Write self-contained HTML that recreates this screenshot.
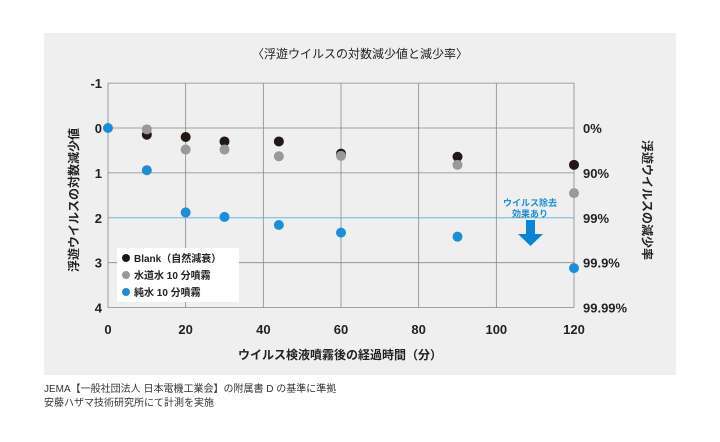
<!DOCTYPE html>
<html><head><meta charset="utf-8"><style>
body{margin:0;background:#fff;width:720px;height:437px;overflow:hidden;font-family:"Liberation Sans","Noto Sans CJK JP",sans-serif}
svg text{font-family:"Liberation Sans","Noto Sans CJK JP",sans-serif}
</style></head><body>
<svg id="c" width="720" height="437">
<rect x="44" y="33" width="632" height="342" fill="#efefef"/>
<text x="360" y="58" font-size="12" text-anchor="middle" fill="#222">〈浮遊ウイルスの対数減少値と減少率〉</text>
<g id="grid"></g><g id="pts"></g>
<g>
<rect x="117" y="248" width="122" height="54" fill="#fff"/>
<circle cx="126" cy="258" r="4" fill="#231815"/><text x="134" y="262" font-size="10" font-weight="bold" fill="#222">Blank（自然減衰）</text>
<circle cx="126" cy="275" r="4" fill="#999"/><text x="134" y="279" font-size="10" font-weight="bold" fill="#222">水道水 10 分噴霧</text>
<circle cx="126" cy="292" r="4" fill="#1a8fd8"/><text x="134" y="296" font-size="10" font-weight="bold" fill="#222">純水 10 分噴霧</text>
</g>
<g>
<text x="530" y="206" font-size="9" font-weight="bold" fill="#1a8fd8" text-anchor="middle">ウイルス除去</text>
<text x="530" y="217" font-size="9" font-weight="bold" fill="#1a8fd8" text-anchor="middle">効果あり</text>
<polygon points="526,220 535,220 535,234 543,234 530.5,246 518,234 526,234" fill="#0a84d6"/>
</g>
<text x="340" y="359" font-size="12" font-weight="bold" text-anchor="middle" fill="#222">ウイルス検液噴霧後の経過時間（分）</text>
<text transform="translate(78,200) rotate(-90)" font-size="12" font-weight="bold" text-anchor="middle" fill="#222">浮遊ウイルスの対数減少値</text>
<text transform="translate(643,200) rotate(90)" font-size="12" font-weight="bold" text-anchor="middle" fill="#222">浮遊ウイルスの減少率</text>
<text x="44" y="392" font-size="10" fill="#333">JEMA【一般社団法人 日本電機工業会】の附属書 D の基準に準拠</text>
<text x="44" y="406" font-size="10" fill="#333">安藤ハザマ技術研究所にて計測を実施</text>
</svg>
<script>
const times=[0,10,20,30,44,60,90,120];
const blank=[null,0.15,0.2,0.3,0.3,0.57,0.64,0.82];
const tap=[null,0.03,0.48,0.48,0.63,0.62,0.82,1.45];
const pure=[0,0.94,1.88,1.98,2.16,2.33,2.42,3.12];
const xTicks=[0,20,40,60,80,100,120];
const yTicks=[-1,0,1,2,3,4];
const rightLabels=["0%","90%","99%","99.9%","99.99%"];
const NS="http://www.w3.org/2000/svg";
const X=v=>108+v*(574-108)/120;
const Y=v=>128+v*44.9;
function mk(t,a,p){const e=document.createElementNS(NS,t);for(const k in a)e.setAttribute(k,a[k]);p.appendChild(e);return e;}
const g=document.getElementById('grid');
xTicks.forEach(v=>{
 const l=mk('line',{x1:X(v),x2:X(v),y1:Y(-1),y2:Y(4),stroke:'#888','stroke-width':0.8},g);
 
 
 const t=mk('text',{x:X(v),y:334,'font-size':13,'font-weight':'bold','text-anchor':'middle',fill:'#222'},g);t.textContent=v;
 
 
});
yTicks.forEach(v=>{
 const l=mk('line',{x1:X(0),x2:X(120),y1:Y(v),y2:Y(v),stroke:v===2?'#5aaee5':'#888','stroke-width':0.8},g);
 
 
 const t=mk('text',{x:102,y:Y(v)+5,'font-size':13,'font-weight':'bold','text-anchor':'end',fill:'#222'},g);t.textContent=v;
 
 
});
rightLabels.forEach((s,i)=>{
 const t=mk('text',{x:583,y:Y(i)+5,'font-size':13,'font-weight':'bold',fill:'#222'},g);t.textContent=s;
 
 
});
const p=document.getElementById('pts');
[[blank,'#231815','blank-point'],[tap,'#999','tap-water-point'],[pure,'#1a8fd8','pure-water-point']].forEach(([arr,c,n])=>{
 arr.forEach((v,i)=>{if(v===null)return;
  const e=mk('circle',{cx:X(times[i]),cy:Y(v),r:5,fill:c},p);
  
  
 });
});
</script>
</body></html>
